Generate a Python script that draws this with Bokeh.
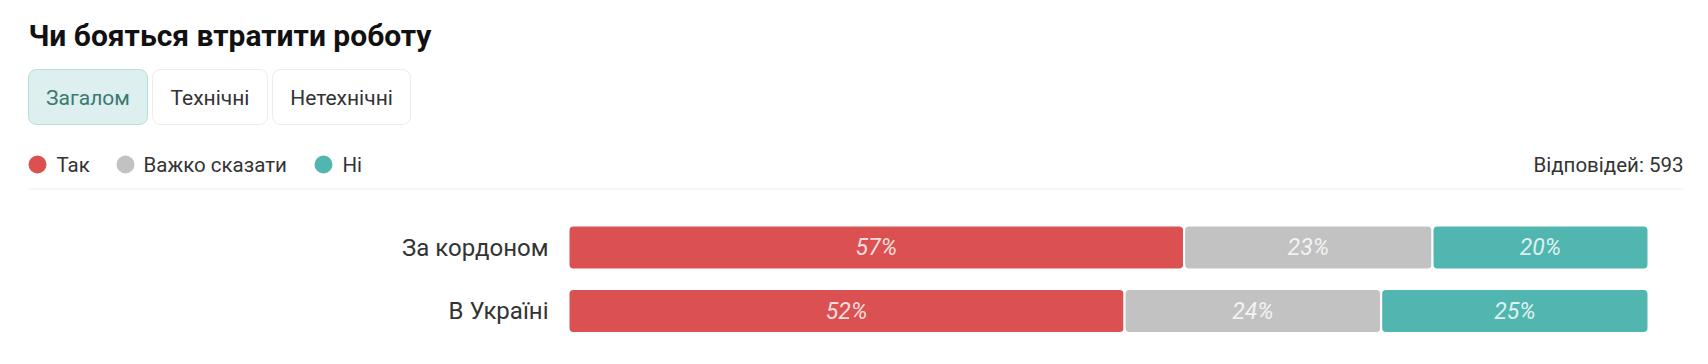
from bokeh.plotting import figure
from bokeh.models import Range1d, ColumnDataSource
from bokeh.core.properties import value
from bokeh.embed import file_html
from bokeh.resources import INLINE

# ---------------- data ----------------
title_text = "Чи бояться втратити роботу"
tabs = ["Загалом", "Технічні", "Нетехнічні"]
legend_labels = ["Так", "Важко сказати", "Ні"]
categories = ["За кордоном", "В Україні"]
tak = [57, 52]
vazhko = [23, 24]
ni = [20, 25]
responses = 593

colors = ["#db5050", "#c2c2c2", "#52b6b0"]

# ---------------- layout (pixels) ----------------
W, H = 1708, 364
BAR_L, BAR_R = 568, 1648          # frame pixels spanned by 0..100 %
ROW0, ROW_STEP = 247, 63.5         # pixel centre of first row, row spacing

def dx(px):
    return (px - BAR_L) / (BAR_R - BAR_L)

def dy(py):
    return (py - ROW0) / ROW_STEP

p = figure(width=W, height=H, output_backend="svg", toolbar_location=None,
           x_range=Range1d(dx(0), dx(W)), y_range=Range1d(dy(H), dy(0)),
           min_border=0, min_border_left=0, min_border_right=0,
           min_border_top=0, min_border_bottom=0)
p.axis.visible = False
p.grid.visible = False
p.outline_line_color = None
p.background_fill_color = "white"
p.border_fill_color = "white"

FONT = value("Roboto")

# title
p.text(x=[dx(28)], y=[dy(35)], text=[title_text], text_font=FONT,
       text_font_size="30px", text_font_style="bold", text_color="#111111",
       text_baseline="middle", text_align="left")

# tab buttons
btn_l = [28, 152, 272]
btn_r = [147, 267, 410]
btn_fill = ["#ddefee", "#ffffff", "#ffffff"]
btn_line = ["#b5dfdb", "#ebebeb", "#ebebeb"]
btn_text = ["#3b7a71", "#333333", "#333333"]
p.quad(left=[dx(v) for v in btn_l], right=[dx(v) for v in btn_r],
       top=[dy(69)] * 3, bottom=[dy(124)] * 3,
       fill_color=btn_fill, line_color=btn_line, line_width=1, border_radius=8)
p.text(x=[dx((a + b) / 2) for a, b in zip(btn_l, btn_r)], y=[dy(97)] * 3,
       text=tabs, text_font=FONT, text_font_size="21px", text_color=btn_text,
       text_align="center", text_baseline="middle")

# legend
leg_cx = [37, 125, 323]
leg_tx = [56, 143, 342]
p.scatter(x=[dx(v) for v in leg_cx], y=[dy(164)] * 3, size=18,
          fill_color=colors, line_color=None)
p.text(x=[dx(v) for v in leg_tx], y=[dy(164)] * 3, text=legend_labels,
       text_font=FONT, text_font_size="20.5px", text_color="#333333",
       text_align="left", text_baseline="middle")
p.text(x=[dx(1683)], y=[dy(164)], text=[f"Відповідей: {responses}"],
       text_font=FONT, text_font_size="20.5px", text_color="#333333",
       text_align="right", text_baseline="middle")
p.segment(x0=[dx(28)], x1=[dx(1683)], y0=[dy(188.5)], y1=[dy(188.5)],
          line_color="#ececec", line_width=1)

# stacked bars
rows = list(range(len(categories)))
series = [tak, vazhko, ni]
for s_idx, vals in enumerate(series):
    lefts, rights, labels = [], [], []
    for r in rows:
        tot = tak[r] + vazhko[r] + ni[r]
        before = sum(series[k][r] for k in range(s_idx))
        lefts.append(before / tot)
        rights.append((before + vals[r]) / tot)
        labels.append(f"{vals[r]}%")
    src = ColumnDataSource(dict(y=rows, left=lefts, right=rights,
                                mid=[(a + b) / 2 for a, b in zip(lefts, rights)],
                                label=labels))
    p.hbar(y="y", left="left", right="right", height=44 / ROW_STEP, source=src,
           fill_color=colors[s_idx], line_color="white", line_width=2,
           border_radius=5)
    p.text(x="mid", y="y", text="label", source=src, text_font=FONT,
           text_font_size="23px", text_font_style="italic",
           text_color="white", text_alpha=0.82,
           text_align="center", text_baseline="middle")

# category labels
p.text(x=[0] * len(categories), y=rows, text=categories, x_offset=-20,
       text_font=FONT, text_font_size="24px", text_color="#333333",
       text_align="right", text_baseline="middle")

open("out.html", "w").write(file_html(p, INLINE))
